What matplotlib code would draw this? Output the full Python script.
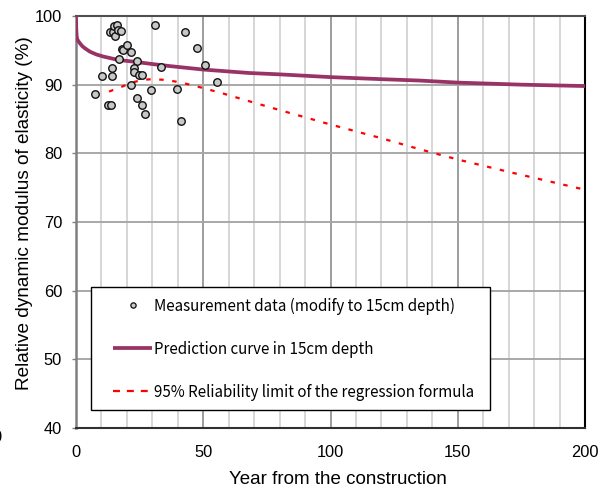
import matplotlib
matplotlib.use("Agg")
import matplotlib.pyplot as plt
from matplotlib.ticker import MultipleLocator
from matplotlib.lines import Line2D
from matplotlib.patches import Rectangle

plt.rcParams['lines.scale_dashes'] = False

# Measurement data (years, relative dynamic modulus %)
meas_x = [7.5, 10.1, 12.5, 13.8, 14.0, 14.0, 13.4, 14.7, 15.3, 15.0, 16.2, 16.6, 17.7,
          16.8, 18.0, 18.6, 19.9, 21.5, 23.9, 22.9, 22.9, 24.8, 26.1, 21.6, 29.5, 24.0,
          26.1, 27.2, 31.0, 33.3, 39.6, 41.1, 42.8, 47.7, 50.7, 55.3]
meas_y = [88.7, 91.2, 87.0, 87.0, 92.5, 91.2, 97.6, 97.7, 97.1, 98.5, 98.7, 98.0, 97.8,
          93.8, 95.2, 95.0, 95.8, 94.8, 93.4, 92.5, 91.9, 91.4, 91.4, 89.9, 89.2, 88.1,
          87.0, 85.7, 98.7, 92.6, 89.4, 84.7, 97.6, 95.3, 92.9, 90.4]

# Prediction curve in 15cm depth
pred_x = [0, 0.1, 0.25, 0.5, 1, 1.6, 2.5, 3.5, 5.5, 8, 10.7, 16.6, 23.8, 30, 37, 50,
          68, 80, 100, 120, 135, 150, 175, 200]
pred_y = [100, 98.2, 97.1, 96.6, 96.3, 96.0, 95.6, 95.3, 94.8, 94.4, 94.1, 93.6,
          93.3, 93.0, 92.7, 92.2, 91.7, 91.5, 91.1, 90.8, 90.6, 90.3, 90.0, 89.8]

# 95% reliability limit of the regression formula
lim_x = [13, 18, 22, 26, 30, 35, 40, 46, 50, 57, 67, 80, 100, 120, 135, 150, 170, 200]
lim_y = [89.0, 89.7, 90.3, 90.7, 90.8, 90.7, 90.4, 89.9, 89.5, 88.8, 87.7, 86.3,
         84.2, 82.2, 80.6, 79.1, 77.3, 74.7]

x_ticks = [0, 50, 100, 150, 200]
y_ticks = [40, 50, 60, 70, 80, 90, 100]

legend_labels = ['Measurement data (modify to 15cm depth)',
                 'Prediction curve in 15cm depth',
                 '95% Reliability limit of the regression formula']

purple = '#993366'
red = '#ff0000'

fig = plt.figure(figsize=(6.06, 4.92), dpi=100)
ax = fig.add_axes([76/606, 1-428/492, 509/606, 412/492])

tick_font = 'Liberation Sans'

ax.plot(pred_x, pred_y, color=purple, lw=2.7, solid_capstyle='butt', zorder=3)
ax.plot(lim_x, lim_y, color=red, lw=1.6, dashes=(3.2, 6.2), zorder=3)
ax.plot(meas_x, meas_y, ls='none', marker='o', ms=5.4, mfc='#c8c8c8', mec='#111111',
        mew=1.0, zorder=4)

ax.set_xlim(0, 200)
ax.set_ylim(40, 100)
ax.set_xticks(x_ticks)
ax.set_yticks(y_ticks)
ax.xaxis.set_minor_locator(MultipleLocator(10))
ax.grid(which='minor', axis='x', color='#d0d0d0', lw=1.2, zorder=0)
ax.grid(which='major', axis='x', color='#8c8c8c', lw=1.2, zorder=0)
ax.grid(which='major', axis='y', color='#a8a8a8', lw=1.4, zorder=0)
ax.set_axisbelow(True)
ax.tick_params(axis='x', which='both', length=0, pad=12, labelsize=11.8)
ax.tick_params(axis='y', which='both', length=3, width=1, color='#808080', pad=7,
               labelsize=11.8)
for lab in ax.get_xticklabels() + ax.get_yticklabels():
    lab.set_fontfamily(tick_font)

ax.spines['left'].set_color('#808080')
ax.spines['left'].set_linewidth(1.8)
ax.spines['bottom'].set_color('#303030')
ax.spines['bottom'].set_linewidth(1.5)
ax.spines['top'].set_color('#505050')
ax.spines['top'].set_linewidth(1.5)
ax.spines['right'].set_color('#000000')
ax.spines['right'].set_linewidth(1.5)

ax.set_xlabel('Year from the construction', fontsize=13.5, fontfamily=tick_font)
ax.set_ylabel('Relative dynamic modulus of elasticity (%)', fontsize=13.7,
              fontfamily=tick_font)
ax.xaxis.set_label_coords((338-76)/509, (428-471)/412)
ax.yaxis.set_label_coords((33-76)/509, (428-213)/412)

# legend frame
ax.add_patch(Rectangle((15/509, 18/412), 399/509, 123/412, transform=ax.transAxes,
                       facecolor='white', edgecolor='black', lw=1.0, zorder=5))
handles = [Line2D([], [], ls='none', marker='o', ms=3.8, mfc='#c8c8c8', mec='#111111',
                  mew=0.9),
           Line2D([], [], color=purple, lw=2.7, solid_capstyle='butt'),
           Line2D([], [], color=red, lw=1.6, dashes=(5, 5))]
leg = ax.legend(handles, legend_labels, loc='center left',
                bbox_to_anchor=((113-76)/509, (428-349)/412),
                prop={'family': ['Noto Sans CJK JP', 'DejaVu Sans'], 'size': 10.9},
                frameon=False, borderpad=0, labelspacing=1.72, handlelength=2.6,
                handletextpad=0.13, borderaxespad=0)
leg.set_zorder(6)

fig.text(-3/606, 1-438/492, '0', ha='center', va='center', fontsize=11.8,
         fontfamily=tick_font)

fig.savefig('out.png', dpi=100)
